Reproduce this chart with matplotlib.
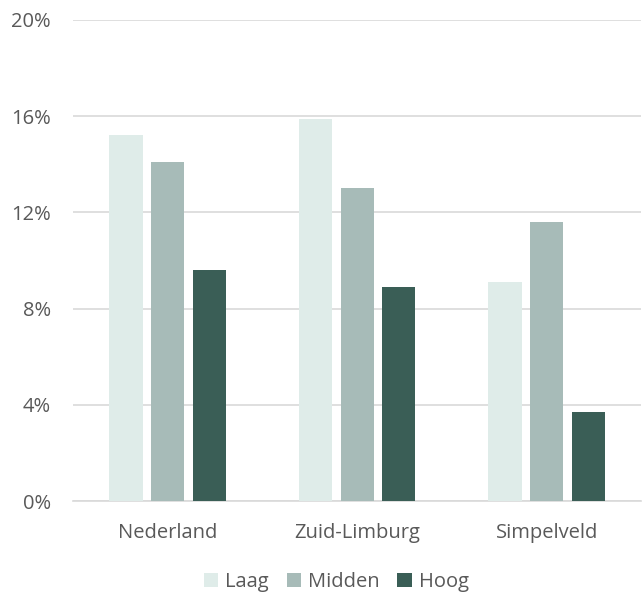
import numpy as np
import matplotlib.pyplot as plt
from matplotlib.ticker import FuncFormatter

categories = ['Nederland', 'Zuid-Limburg', 'Simpelveld']
series = ['Laag', 'Midden', 'Hoog']
laag = [15.2, 15.9, 9.1]
midden = [14.1, 13.0, 11.6]
hoog = [9.6, 8.9, 3.7]
colors = ['#DFECE9', '#A7BBB8', '#3A5E56']

plt.rcParams['font.family'] = ['Open Sans', 'DejaVu Sans']

fig = plt.figure(figsize=(6.43, 5.98), dpi=100)
ax = fig.add_axes([0.1135, 0.1622, 0.884, 0.8044])

x = np.arange(len(categories))
w = 0.175
step = 0.22
for i, (name, vals) in enumerate(zip(series, [laag, midden, hoog])):
    ax.bar(x + (i - 1) * step, vals, w, color=colors[i], label=name, zorder=3)

ax.set_xlim(-0.5, 2.5)
ax.set_ylim(0, 20)
ax.set_yticks([0, 4, 8, 12, 16, 20])
ax.yaxis.set_major_formatter(FuncFormatter(lambda v, p: f'{v:.0f}%'))
ax.set_xticks(x)
ax.set_xticklabels(categories)
ax.grid(axis='y', color='#D9D9D9', linewidth=1.2, zorder=0)
for s in ['top', 'right', 'left']:
    ax.spines[s].set_visible(False)
ax.spines['bottom'].set_color('#D9D9D9')
ax.spines['bottom'].set_linewidth(1.2)
ax.tick_params(axis='both', length=0, labelsize=14.5, colors='#595959')
ax.tick_params(axis='y', pad=16)
ax.tick_params(axis='x', pad=16)

ax.legend(loc='center', bbox_to_anchor=(0.463, -0.168), ncol=3, frameon=False,
          fontsize=14.5, labelcolor='#595959', handlelength=0.7, handleheight=0.7,
          handletextpad=0.35, columnspacing=0.9)

fig.savefig('out.png', dpi=100)
